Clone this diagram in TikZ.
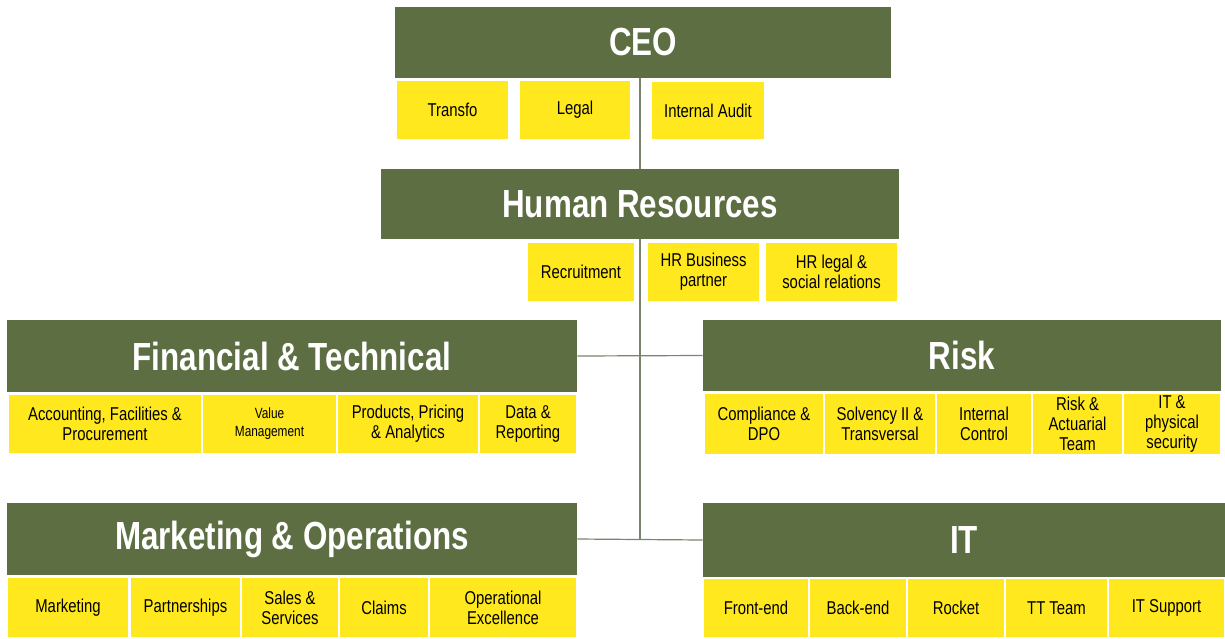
\documentclass[tikz,border=0pt]{standalone}
\usepackage{fontspec}
\setmainfont{Liberation Sans}[FakeStretch=0.8]
\usetikzlibrary{positioning}
\definecolor{orgGreen}{RGB}{93,110,66}
\definecolor{orgYellow}{RGB}{255,233,30}
\definecolor{lineGray}{RGB}{120,132,108}

\begin{document}
\begin{tikzpicture}[
      x=0.5pt, y=-0.5pt,
      head/.style={fill=orgGreen, text=white, inner sep=0pt,
        font=\fontsize{19.6}{21}\selectfont\bfseries},
      unit/.style={fill=orgYellow, draw=white, line width=1pt, text=black,
        inner sep=0pt, align=center, font=\fontsize{9.3}{10}\selectfont},
      size/.style 2 args={minimum width=#1*0.5pt, minimum height=#2*0.5pt},
      link/.style={draw=lineGray, line width=0.6pt},
      ]
      \useasboundingbox (0,0) rectangle (1225,638);

      % top of the chart
      \node[head, size={496}{71}] (ceo) at (643,42.5) {CEO};
      \node[unit, size={113}{60}] (transfo) at (452.5,110) {Transfo};
      \node[unit, size={112}{60}] (legal)   at (575,110)   {Legal};
      \node[unit, size={114}{59}] (audit)   at (708,110.5) {Internal Audit};

      \node[head, size={518}{70}] (hr) at (640,204) {Human Resources};
      \node[unit, size={108}{60}] (recruit) at (581,272)   {Recruitment};
      \node[unit, size={113}{60}] (hrbp)    at (703.5,272) {HR Business\\partner};
      \node[unit, size={133}{60}] (hrlegal) at (831.5,272) {HR legal \&\\social relations};

      % left column
      \node[head, size={570}{72}] (fin) at (292,356) {Financial \& Technical};
      \node[unit, size={194}{60}] (account)  at (105,424)   {Accounting, Facilities \&\\Procurement};
      \node[unit, size={135}{60}, font=\fontsize{7.4}{9}\selectfont] (value) at (269.5,424) {Value\\Management};
      \node[unit, size={142}{60}] (products) at (408,424)   {Products, Pricing\\\& Analytics};
      \node[unit, size={98}{60}]  (data)     at (528,424)   {Data \&\\Reporting};

      \node[head, size={570}{72}] (mo) at (292,539) {Marketing \& Operations};
      \node[unit, size={122}{61}] (marketing)    at (68,607.5)    {Marketing};
      \node[unit, size={111}{61}] (partners)     at (185.5,607.5) {Partnerships};
      \node[unit, size={98}{61}]  (sales)        at (290,607.5)   {Sales \&\\Services};
      \node[unit, size={90}{61}]  (claims)       at (384,607.5)   {Claims};
      \node[unit, size={148}{61}] (opex)         at (503,607.5)   {Operational\\Excellence};

      % right column
      \node[head, size={518}{71}] (risk) at (962,355.5) {Risk};
      \node[unit, size={120}{62}] (compliance) at (764,424)  {Compliance \&\\DPO};
      \node[unit, size={112}{62}] (solvency)   at (880,424)  {Solvency II \&\\Transversal};
      \node[unit, size={96}{62}]  (control)    at (984,424)  {Internal\\Control};
      \node[unit, size={91}{62}]  (actuarial)  at (1077.5,424) {Risk \&\\Actuarial\\Team};
      \node[unit, size={98}{62}]  (security)   at (1172,424) {IT \&\\physical\\security};

      \node[head, size={522}{74}] (it) at (964,540) {IT};
      \node[unit, size={106}{60}] (front)   at (756,608)    {Front-end};
      \node[unit, size={98}{60}]  (back)    at (858,608)    {Back-end};
      \node[unit, size={98}{60}]  (rocket)  at (956,608)    {Rocket};
      \node[unit, size={103}{60}] (ttteam)  at (1056.5,608) {TT Team};
      \node[unit, size={117}{60}] (support) at (1166.5,608) {IT Support};

      % connectors
      \draw[link] (ceo.south -| hr.north) -- (hr.north);
      \draw[link] (hr.south) -- (hr.south |- mo.east);
      \draw[link] (fin.east) -- (risk.west);
      \draw[link] (mo.east) -- (it.west);
    \end{tikzpicture}
\end{document}
